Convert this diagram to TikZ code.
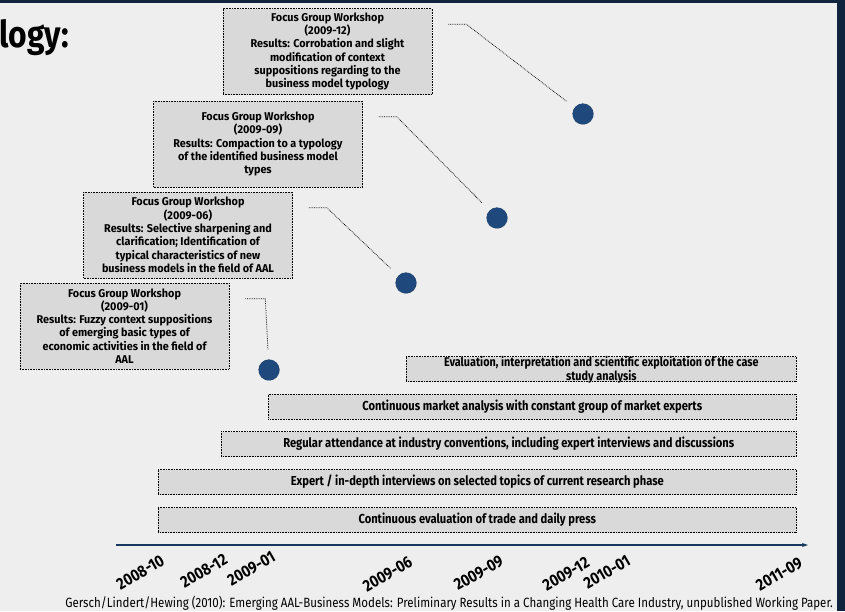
\documentclass[tikz,border=0pt]{standalone}
\usepackage{fontspec}
\setmainfont[FakeStretch=0.86]{Fira Sans}
\newfontfamily\boxfont[FakeStretch=0.96]{Fira Sans}
\usetikzlibrary{calc,arrows.meta}

\definecolor{slidebg}{HTML}{EEEEEE}
\definecolor{boxgrey}{HTML}{D9D9D9}
\definecolor{framenavy}{HTML}{10233F}
\definecolor{dotblue}{HTML}{1F497D}
\definecolor{axisnavy}{HTML}{17375E}

\begin{document}
\begin{tikzpicture}[x=1pt, y=-1pt,
	wsbox/.style={draw, densely dotted, line width=0.6pt, fill=boxgrey, align=center, minimum width=209pt, minimum height=86pt, inner sep=2pt, font=\boxfont\bfseries\fontsize{11.3}{13.3}\selectfont},
	phasebar/.style={draw, densely dotted, line width=0.6pt, fill=boxgrey, align=center, minimum height=25pt, anchor=west, inner sep=1pt, font=\bfseries\fontsize{13}{13}\selectfont},
	milestone/.style={circle, draw=framenavy, densely dotted, fill=dotblue, minimum size=21pt, inner sep=0pt},
	leader/.style={densely dotted, line width=0.75pt, shorten >=10pt},
	datelabel/.style={rotate=30, anchor=north east, inner sep=0pt, font=\bfseries\fontsize{16.5}{16.5}\selectfont}]
	
	% slide
	\useasboundingbox (0,0) rectangle (845,611);
	\fill[slidebg] (0,0) rectangle (845,611);
	\fill[framenavy] (0,0) rectangle (845,3);
	\fill[framenavy] (837,0) rectangle (845,611);
	
	\node[anchor=base west, inner sep=0pt, font=\bfseries\fontsize{37}{37}\selectfont] (title) at (-1,47) {logy:};
	
	% workshops
	\node[wsbox] (w12) at (327.5,51.5) {Focus Group Workshop\\(2009-12)\\Results: Corrobation and slight\\modification of context\\suppositions regarding to the\\business model typology};
	\node[wsbox] (w09) at (258,144) {Focus Group Workshop\\(2009-09)\\Results:  Compaction to a typology\\of the identified business  model\\types};
	\node[wsbox] (w06) at (188,235) {Focus Group Workshop\\(2009-06)\\Results:  Selective sharpening and\\clarification; Identification of\\typical characteristics of new\\business models in the field of AAL};
	\node[wsbox] (w01) at (124.5,326) {Focus Group Workshop\\(2009-01)\\Results: Fuzzy context suppositions\\of emerging basic types of\\economic activities in the field of\\AAL};
	
	\node[milestone] (c12) at (583,114) {};
	\node[milestone] (c09) at (497,218) {};
	\node[milestone] (c06) at (406,283) {};
	\node[milestone] (c01) at (269,370) {};
	
	\coordinate (s12) at ($(w12.north east)+(16,16)$);
	\coordinate (s09) at ($(w09.north east)+(16,16)$);
	\coordinate (s06) at ($(w06.north east)+(16,16)$);
	\coordinate (s01) at ($(w01.north east)+(16,16)$);
	\draw[leader] (s12) -- ++(18,0) -- (c12);
	\draw[leader] (s09) -- ++(18,0) -- (c09);
	\draw[leader] (s06) -- ++(18,0) -- (c06);
	\draw[leader] (s01) -- ++(20,0) -- (c01);
	
	% research phases
	\node[phasebar, minimum width=390pt, inner sep=0pt, text height=23pt, text depth=1pt, font=\bfseries\fontsize{12.6}{13}\selectfont] (evalbar) at (406,369) {Evaluation, interpretation and scientific exploitation of the case\\[-0.5pt]study analysis};
	\node[phasebar, minimum width=528pt] (marketbar) at (268,406.5) {Continuous market analysis with constant group of market experts};
	\node[phasebar, minimum width=575pt] (fairbar) at (221,444) {Regular attendance at industry conventions, including expert interviews and discussions};
	\node[phasebar, minimum width=638pt] (expertbar) at (158,482) {Expert / in-depth interviews on selected topics of current research phase};
	\node[phasebar, minimum width=638pt] (pressbar) at (158,520) {Continuous evaluation of trade and daily press};
	
	% time axis
	\coordinate (tstart) at (116,545);
	\coordinate (tend) at (808,545);
	\draw[-{Stealth[length=6pt,width=4pt]}, axisnavy, line width=1.2pt] (tstart) -- (tend);
	
	\node[datelabel] (t0810) at (160,554) {2008-10};
	\node[datelabel] (t0812) at (223,553) {2008-12};
	\node[datelabel] (t0901) at (271,550) {2009-01};
	\node[datelabel] (t0906) at (408,555) {2009-06};
	\node[datelabel] (t0909) at (499,554) {2009-09};
	\node[datelabel] (t0912) at (585,556) {2009-12};
	\node[datelabel] (t1001) at (626,554) {2010-01};
	\node[datelabel] (t1109) at (798,556) {2011-09};
	
	\node[anchor=base east, inner sep=0pt, font=\fontsize{13.4}{13.4}\selectfont] (source) at (833,607) {Gersch/Lindert/Hewing (2010): Emerging AAL-Business Models: Preliminary Results in a Changing Health Care Industry, unpublished Working Paper.};
	
\end{tikzpicture}
\end{document}
